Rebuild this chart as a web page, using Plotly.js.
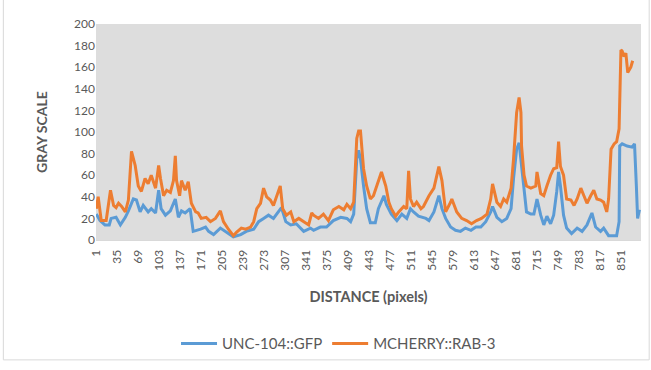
<!DOCTYPE html>
<html>
<head>
<meta charset="utf-8">
<script src="https://cdn.plot.ly/plotly-3.0.1.min.js"></script>
<style>html,body{margin:0;padding:0;background:#fff;}#chart{width:651px;height:370px;}</style>
</head>
<body>
<div id="chart"></div>
<script>
// Distance (pixels) and gray scale values
const gfpDistance = [1,7,15,22,25,33,40,48,53,61,66,72,77,85,90,97,102,106,113,121,129,134,139,145,153,158,170,178,183,191,202,212,223,235,244,256,264,272,280,288,296,301,308,316,325,337,348,353,364,374,385,397,407,413,418,421,423,426,429,434,439,445,453,458,467,471,479,488,496,504,510,515,523,535,540,548,556,561,567,575,583,591,599,608,616,624,632,640,643,650,658,666,673,677,682,686,689,694,698,705,710,715,721,726,731,737,742,747,750,753,758,763,771,780,788,796,804,810,818,823,831,840,844,848,849,853,861,869,873,876,878,881];
const gfpGray = [24,18,14,14,20,21,14,21,27,38,37,26,32,26,29,25,46,29,23,27,38,21,27,25,29,8,10,12,8,5,11,7,3,5,8,10,17,20,23,20,26,30,17,14,15,8,11,9,12,12,18,21,20,17,24,57,75,83,75,50,29,16,16,29,41,33,24,18,24,20,29,26,22,20,18,26,41,29,20,12,9,8,11,9,12,12,17,26,31,21,17,20,29,57,84,90,75,48,26,24,24,38,23,14,22,15,23,45,63,50,23,11,6,11,8,14,25,12,8,11,4,4,4,17,87,89,87,86,89,50,20,28];

const rabDistance = [1,4,9,17,24,29,33,37,42,48,53,58,64,69,74,80,85,90,97,102,105,110,115,121,126,129,131,136,139,145,150,155,162,166,171,179,186,194,202,207,215,223,228,236,243,251,256,261,267,272,277,283,288,293,299,303,309,316,321,329,337,345,350,353,361,369,377,385,394,402,407,413,418,421,423,426,429,431,434,439,445,450,458,463,470,475,479,486,491,499,504,507,510,515,520,527,531,540,548,556,561,567,575,577,585,593,601,609,617,625,634,640,643,650,656,661,666,673,677,682,686,689,690,694,698,705,713,715,721,726,731,737,742,747,750,753,758,763,770,775,780,786,791,796,802,807,812,818,823,828,831,835,840,844,848,851,853,856,859,862,867,870];
const rabGray = [29,40,18,18,46,32,30,34,31,26,37,82,69,50,45,57,52,60,48,69,57,41,46,44,55,78,55,41,55,46,54,34,26,25,20,21,17,20,27,17,10,4,7,11,10,12,17,29,34,48,40,37,32,41,50,29,23,26,17,20,17,14,25,23,20,24,18,28,31,28,33,29,35,69,94,101,101,87,66,50,38,41,55,63,50,35,29,22,26,31,29,64,38,31,35,29,31,41,48,68,55,26,35,38,26,20,18,15,18,20,24,38,52,35,31,38,35,48,75,118,132,118,87,60,50,48,50,63,43,41,50,60,66,67,91,68,60,38,37,32,38,48,41,34,41,46,38,37,35,26,38,84,89,91,103,176,175,170,173,155,160,166];

const xTicks = [1,35,69,103,137,171,205,239,273,307,341,375,409,443,477,511,545,579,613,647,681,715,749,783,817,851];
const yTicks = [0,20,40,60,80,100,120,140,160,180,200];

const font = "Lato, 'Open Sans', sans-serif";
const traces = [
  {x: gfpDistance, y: gfpGray, type: 'scatter', mode: 'lines', name: 'UNC-104::GFP',
   line: {color: '#5B9BD5', width: 3}},
  {x: rabDistance, y: rabGray, type: 'scatter', mode: 'lines', name: 'MCHERRY::RAB-3',
   line: {color: '#ED7D31', width: 3}}
];
const layout = {
  width: 651, height: 370,
  margin: {l: 96, r: 10, t: 24, b: 128},
  paper_bgcolor: '#ffffff',
  plot_bgcolor: '#dddddd',
  font: {family: font, color: '#595959', size: 12},
  showlegend: true,
  legend: {orientation: 'h', x: 0.445, xanchor: 'center', y: -0.48, yanchor: 'middle',
           font: {size: 15, color: '#595959'}, bgcolor: 'rgba(0,0,0,0)', itemwidth: 36},
  xaxis: {range: [0.5, 883.5], tickmode: 'array', tickvals: xTicks, ticktext: xTicks.map(String),
          tickangle: -90, showgrid: false, zeroline: false, showline: true, linecolor: '#d9d9d9',
          ticks: 'outside', ticklen: 4, tickcolor: 'rgba(0,0,0,0)', tickfont: {size: 12, color: '#595959'},
          title: {text: '<b>DISTANCE (pixels)</b>', font: {size: 14.5, color: '#595959'}, standoff: 22}},
  yaxis: {range: [0, 200], tickmode: 'array', tickvals: yTicks, ticktext: yTicks.map(String),
          showgrid: false, zeroline: false, showline: false, ticks: '',
          tickfont: {size: 12, color: '#595959'},
          title: {text: '<b>GRAY SCALE</b>', font: {size: 14, color: '#595959'}, standoff: 23}},
  shapes: [{type: 'rect', xref: 'paper', yref: 'paper', x0: -0.17, x1: 1.015, y0: -0.555, y1: 1.3,
            line: {color: '#d9d9d9', width: 1}, fillcolor: 'rgba(0,0,0,0)', layer: 'below'}]
};
Plotly.newPlot('chart', traces, layout, {staticPlot: true, displayModeBar: false});
</script>
</body>
</html>
